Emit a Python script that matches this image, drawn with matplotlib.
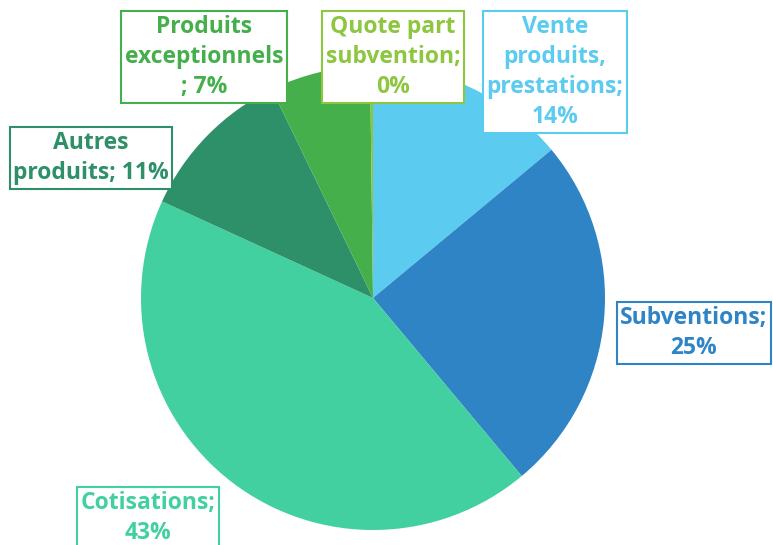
import matplotlib.pyplot as plt

# -----------------------------------------------------------------------------
# Data
# -----------------------------------------------------------------------------

CATEGORIES = [
    "Vente\nproduits,\nprestations;",
    "Subventions;",
    "Cotisations;",
    "Autres\nproduits; ",
    "Produits\nexceptionnels\n;",
    "Quote part\nsubvention;",
]
SHARES  = [14, 25, 43, 11, 7, 0.2]
LABELS  = ["14%", "25%", "43%", "11%", "7%", "0%"]
COLORS  = ["#5BCBF0", "#2E84C5", "#43D0A0", "#2D9068", "#45AF4C", "#8DC63F"]

# label box centres in pixels (layout only)
LABEL_PX = [(555, 72), (694, 333), (148, 518), (91, 158), (204, 57), (393, 57)]

# -----------------------------------------------------------------------------
# Chart
# -----------------------------------------------------------------------------

W, H = 773, 545
CX, CY, R = 373, 298, 232

fig = plt.figure(figsize=(W / 100, H / 100), dpi=100)
ax = fig.add_axes([(CX - R) / W, (H - CY - R) / H, 2 * R / W, 2 * R / H])

ax.pie(SHARES, colors=COLORS, startangle=90, counterclock=False, radius=1,
       wedgeprops=dict(linewidth=0))
ax.set_xlim(-1, 1)
ax.set_ylim(-1, 1)
ax.set_aspect("equal")
ax.axis("off")

for cat, lab, col, (px, py) in zip(CATEGORIES, LABELS, COLORS, LABEL_PX):
    if cat.endswith(" "):
        text = cat + lab
    elif cat.endswith("\n;"):
        text = cat + " " + lab
    else:
        text = cat + "\n" + lab
    fig.text(px / W, 1 - py / H, text, ha="center", va="center",
             color=col, fontsize=16.5, fontweight="bold", family="Open Sans",
             linespacing=1.35,
             bbox=dict(boxstyle="square,pad=0.15", fc="white", ec=col, lw=1.5))

plt.savefig("out.png", dpi=100)
